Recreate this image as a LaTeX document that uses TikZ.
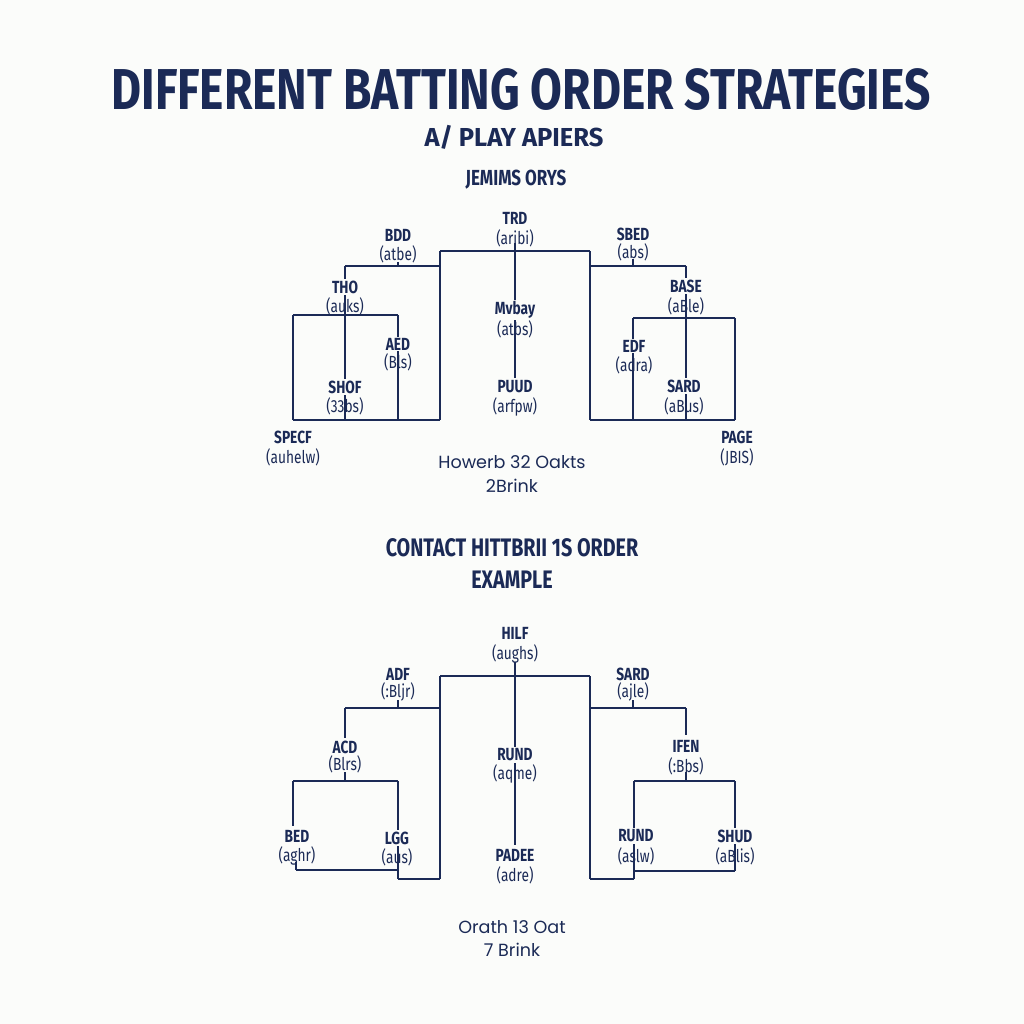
\documentclass[tikz,border=0pt]{standalone}
\usepackage{fontspec}
\setmainfont{Fira Sans}
\newfontfamily\condf[FakeStretch=0.78]{Fira Sans}
\newfontfamily\titf[FakeStretch=0.80]{Fira Sans}
\newfontfamily\subf[FakeStretch=0.98]{Fira Sans}
\newfontfamily\roundf{Poppins}
\definecolor{navy}{HTML}{1B2A56}
\definecolor{bg}{HTML}{FBFCFA}
\begin{document}
\begin{tikzpicture}[x=0.25mm,y=-0.25mm,
  nm/.style={font=\condf\bfseries\fontsize{12.5}{12.5}\selectfont, text=navy, inner sep=1pt, fill=bg},
  sb/.style={font=\condf\fontsize{12.5}{12.5}\selectfont, text=navy, inner sep=0pt},
  link/.style={draw=navy, line width=0.6mm},
  ttl/.style={font=\titf\bfseries\fontsize{41}{41}\selectfont, text=navy, inner sep=0pt},
  hd/.style={font=\condf\bfseries\fontsize{18}{18}\selectfont, text=navy, inner sep=0pt},
  note/.style={font=\roundf\fontsize{12.5}{12.5}\selectfont, text=navy, inner sep=0pt}]
\fill[bg] (0,0) rectangle (1024,1024);
\useasboundingbox (0,0) rectangle (1024,1024);

% headings
\node[ttl] (title) at (521,90) {DIFFERENT BATTING ORDER STRATEGIES};
\node[hd, font=\subf\bfseries\fontsize{18.5}{18.5}\selectfont] (sub) at (514,137) {A/ PLAY APIERS};
\node[hd, font=\condf\bfseries\fontsize{15.5}{15.5}\selectfont] (team) at (516,180) {JEMIMS ORYS};

% ---------- top bracket coordinates ----------
\coordinate (a1) at (440,251); \coordinate (a2) at (590,251);
\coordinate (a3) at (440,420); \coordinate (a4) at (590,420);
\coordinate (ac1) at (515,243); \coordinate (ac2) at (515,378);
\coordinate (l1) at (345,266); \coordinate (l2) at (440,266);
\coordinate (lt1) at (398,262); \coordinate (lt2) at (398,266);
\coordinate (l3) at (345,420);
\coordinate (l4) at (293,315); \coordinate (l5) at (398,315);
\coordinate (l6) at (293,420); \coordinate (l7) at (398,420);
\coordinate (r1) at (590,266); \coordinate (r2) at (686,266);
\coordinate (rt1) at (633,259); \coordinate (rt2) at (633,266);
\coordinate (r3) at (686,420);
\coordinate (r4) at (633,318); \coordinate (r5) at (735,318);
\coordinate (r6) at (633,420); \coordinate (r7) at (735,420);

\draw[link] (a1) -- (a2);
\draw[link] (a1) -- (a3);
\draw[link] (a2) -- (a4);
\draw[link] (ac1) -- (ac2);
\draw[link] (l1) -- (l2);
\draw[link] (lt1) -- (lt2);
\draw[link] (l1) -- (l3);
\draw[link] (l4) -- (l5);
\draw[link] (l4) -- (l6);
\draw[link] (l5) -- (l7);
\draw[link] (l6) -- (a3);
\draw[link] (r1) -- (r2);
\draw[link] (rt1) -- (rt2);
\draw[link] (r2) -- (r3);
\draw[link] (r4) -- (r5);
\draw[link] (r4) -- (r6);
\draw[link] (r5) -- (r7);
\draw[link] (a4) -- (r7);

% top labels
\node[nm] (trd) at (515,218) {TRD};      \node[sb] (trds) at (515,238) {(aribi)};
\node[nm] (bdd) at (398,235) {BDD};      \node[sb] (bdds) at (398,254) {(atbe)};
\node[nm] (tho) at (345,287) {THO};      \node[sb] (thos) at (345,306) {(auks)};
\node[nm] (aed) at (398,344) {AED};      \node[sb] (aeds) at (398,362) {(Bls)};
\node[nm] (shof) at (345,387) {SHOF};    \node[sb] (shofs) at (345,406) {(33bs)};
\node[nm] (specf) at (293,437) {SPECF};  \node[sb] (specfs) at (293,457) {(auhelw)};
\node[nm] (mv) at (515,310) {Mvbay};     \node[sb] (mvs) at (515,329) {(atbs)};
\node[nm] (puud) at (515,387) {PUUD};    \node[sb] (puuds) at (515,407) {(arfpw)};
\node[nm] (sbed) at (633,234) {SBED};    \node[sb] (sbeds) at (633,252) {(abs)};
\node[nm] (base) at (686,286) {BASE};    \node[sb] (bases) at (686,306) {(aBle)};
\node[nm] (edf) at (634,346) {EDF};      \node[sb] (edfs) at (634,365) {(adra)};
\node[nm] (sard) at (684,386) {SARD};    \node[sb] (sards) at (684,406) {(aBus)};
\node[nm] (page) at (737,437) {PAGE};    \node[sb] (pages) at (737,457) {(JBIS)};

\node[note] (n1) at (512,462) {Howerb 32 Oakts};
\node[note] (n2) at (512,486) {2Brink};

\node[hd] (h2a) at (512,548) {CONTACT HITTBRII 1S ORDER};
\node[hd] (h2b) at (512,580) {EXAMPLE};

% ---------- bottom bracket coordinates ----------
\coordinate (b1) at (440,676); \coordinate (b2) at (590,676);
\coordinate (b3) at (440,879); \coordinate (b4) at (590,879);
\coordinate (bc1) at (515,662); \coordinate (bc2) at (515,845);
\coordinate (m1) at (345,708); \coordinate (m2) at (440,708);
\coordinate (mt1) at (398,700); \coordinate (mt2) at (398,708);
\coordinate (m3) at (345,738);
\coordinate (m3b) at (345,772); \coordinate (m3c) at (345,781);
\coordinate (m4) at (293,781); \coordinate (m5) at (398,781);
\coordinate (m6) at (293,826);
\coordinate (m7) at (296,862); \coordinate (m8) at (296,870);
\coordinate (m9) at (398,870); \coordinate (m10) at (398,879);
\coordinate (s1) at (590,708); \coordinate (s2) at (686,708);
\coordinate (st1) at (633,700); \coordinate (st2) at (633,708);
\coordinate (s3) at (686,735);
\coordinate (s3b) at (686,772); \coordinate (s3c) at (686,781);
\coordinate (s4) at (634,781); \coordinate (s5) at (735,781);
\coordinate (s6) at (634,879); \coordinate (s7) at (735,871);
\coordinate (s8) at (634,871);

\draw[link] (b1) -- (b2);
\draw[link] (b1) -- (b3);
\draw[link] (b2) -- (b4);
\draw[link] (bc1) -- (bc2);
\draw[link] (m1) -- (m2);
\draw[link] (mt1) -- (mt2);
\draw[link] (m1) -- (m3);
\draw[link] (m3b) -- (m3c);
\draw[link] (m4) -- (m5);
\draw[link] (m4) -- (m6);
\draw[link] (m7) -- (m8);
\draw[link] (m8) -- (m9);
\draw[link] (m5) -- (m10);
\draw[link] (m10) -- (b3);
\draw[link] (s1) -- (s2);
\draw[link] (st1) -- (st2);
\draw[link] (s2) -- (s3);
\draw[link] (s3b) -- (s3c);
\draw[link] (s4) -- (s5);
\draw[link] (s4) -- (s6);
\draw[link] (s5) -- (s7);
\draw[link] (s8) -- (s7);
\draw[link] (b4) -- (s6);

% bottom labels
\node[nm] (hilf) at (515,633) {HILF};    \node[sb] (hilfs) at (515,654) {(aughs)};
\node[nm] (adf) at (398,674) {ADF};      \node[sb] (adfs) at (398,692) {(:Bljr)};
\node[nm] (acd) at (345,747) {ACD};      \node[sb] (acds) at (345,764) {(Blrs)};
\node[nm] (bed) at (297,836) {BED};      \node[sb] (beds) at (297,856) {(aghr)};
\node[nm] (lgg) at (397,838) {LGG};      \node[sb] (lggs) at (397,857) {(aus)};
\node[nm] (rund) at (515,755) {RUND};    \node[sb] (runds) at (515,774) {(aqme)};
\node[nm] (padee) at (515,855) {PADEE};  \node[sb] (padees) at (515,875) {(adre)};
\node[nm] (sard2) at (633,674) {SARD};   \node[sb] (sard2s) at (633,692) {(ajle)};
\node[nm] (ifen) at (686,746) {IFEN};    \node[sb] (ifens) at (686,766) {(:Bbs)};
\node[nm] (rund2) at (636,836) {RUND};   \node[sb] (rund2s) at (636,856) {(aslw)};
\node[nm] (shud) at (735,836) {SHUD};    \node[sb] (shuds) at (735,856) {(aBlis)};

\node[note] (n3) at (512,927) {Orath 13 Oat};
\node[note] (n4) at (512,950) {7 Brink};
\end{tikzpicture}
\end{document}
